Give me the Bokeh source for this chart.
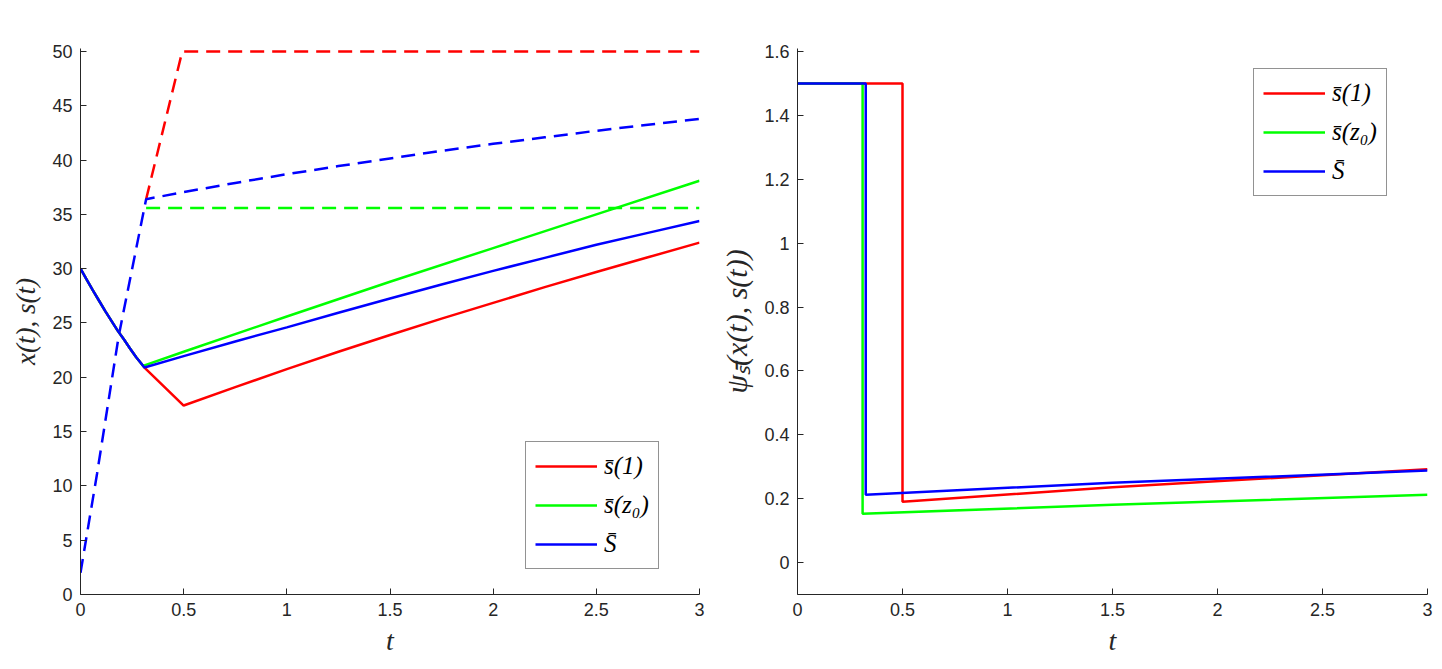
from bokeh.plotting import figure
from bokeh.layouts import row
from bokeh.models import Range1d, FixedTicker
from bokeh.embed import file_html
from bokeh.resources import INLINE

# ---------------- data ----------------
# left panel: x(t) (solid) and s(t) (dashed)
t_decay = [0, 0.03, 0.06, 0.09, 0.12, 0.15, 0.18, 0.21, 0.24, 0.27, 0.31]
x_decay = [30, 29.0, 28.0, 27.05, 26.1, 25.2, 24.3, 23.5, 22.65, 21.85, 20.9]

t_x_red = [0.5, 0.75, 1.0, 1.25, 1.5, 1.75, 2.0, 2.25, 2.5, 2.75, 3.0]
x_red = [17.4, 19.1, 20.75, 22.35, 23.9, 25.4, 26.85, 28.3, 29.7, 31.05, 32.4]
t_x_grn = [0.31, 0.5, 1.0, 1.5, 2.0, 2.5, 3.0]
x_grn = [21.1, 22.35, 25.6, 28.8, 31.9, 35.0, 38.1]
t_x_blu = [0.31, 0.5, 0.75, 1.0, 1.25, 1.5, 1.75, 2.0, 2.25, 2.5, 2.75, 3.0]
x_blu = [20.9, 21.95, 23.3, 24.6, 25.95, 27.25, 28.55, 29.8, 31.0, 32.2, 33.3, 34.4]

t_s_red = [0.318, 0.493, 3.0]
s_red = [36.4, 50, 50]
t_s_grn = [0.318, 3.0]
s_grn = [35.6, 35.6]
t_s_blu = [0, 0.08, 0.186, 0.318, 0.5, 0.75, 1.0, 1.25, 1.5, 1.75, 2.0, 2.25, 2.5, 2.75, 3.0]
s_blu = [2, 11.1, 23.9, 36.4, 37.05, 37.9, 38.7, 39.45, 40.15, 40.85, 41.5, 42.1, 42.7, 43.25, 43.8]

# right panel: psi
t_psi_red = [0, 0.5, 0.5, 1.5, 3.0]
psi_red = [1.5, 1.5, 0.19, 0.236, 0.292]
t_psi_grn = [0, 0.31, 0.31, 1.5, 3.0]
psi_grn = [1.5, 1.5, 0.153, 0.181, 0.2125]
t_psi_blu = [0, 0.325, 0.325, 1.5, 3.0]
psi_blu = [1.5, 1.5, 0.2125, 0.250, 0.288]

labels = ["s\u0304(1)", "s\u0304(z\u2080)", "S\u0304"]
x_ticks = [0, 0.5, 1, 1.5, 2, 2.5, 3]
x_tick_labels = ["0", "0.5", "1", "1.5", "2", "2.5", "3"]
yl_ticks = [0, 5, 10, 15, 20, 25, 30, 35, 40, 45, 50]
yl_tick_labels = ["0", "5", "10", "15", "20", "25", "30", "35", "40", "45", "50"]
yr_ticks = [0, 0.2, 0.4, 0.6, 0.8, 1.0, 1.2, 1.4, 1.6]
yr_tick_labels = ["0", "0.2", "0.4", "0.6", "0.8", "1", "1.2", "1.4", "1.6"]

RED, GRN, BLU = "#ff0000", "#00ff00", "#0000ff"
AX = "#262626"
LW = 2.5
DASH = "14 8"


def style(p, yt, ytl, ylabel, ysize):
    p.xaxis.ticker = FixedTicker(ticks=x_ticks)
    p.yaxis.ticker = FixedTicker(ticks=yt)
    p.xaxis.major_label_overrides = {k: v for k, v in zip(x_ticks, x_tick_labels)}
    p.yaxis.major_label_overrides = {k: v for k, v in zip(yt, ytl)}
    p.xgrid.visible = False
    p.ygrid.visible = False
    p.outline_line_color = None
    for ax in (p.xaxis[0], p.yaxis[0]):
        ax.axis_line_color = AX
        ax.major_tick_line_color = AX
        ax.major_tick_in = 6
        ax.major_tick_out = 0
        ax.minor_tick_line_color = None
        ax.major_label_text_font = "Liberation Sans"
        ax.major_label_text_font_size = "18px"
        ax.major_label_text_color = AX
        ax.axis_label_text_font = "Liberation Serif"
        ax.axis_label_text_font_style = "italic"
        ax.axis_label_text_color = AX
    p.xaxis.axis_label = "t"
    p.xaxis.axis_label_text_font_size = "28px"
    p.xaxis.major_label_standoff = 8
    p.xaxis.axis_label_standoff = 6
    p.yaxis.axis_label = ylabel
    p.yaxis.axis_label_text_font_size = ysize
    p.yaxis.major_label_standoff = 8
    p.yaxis.axis_label_standoff = 8


def style_legend(p, loc):
    lg = p.legend[0]
    lg.location = loc
    lg.label_text_font = "Liberation Serif"
    lg.label_text_font_style = "italic"
    lg.label_text_font_size = "25px"
    lg.label_text_color = "#000000"
    lg.glyph_width = 62
    lg.glyph_height = 30
    lg.label_height = 30
    lg.spacing = 9
    lg.padding = 9
    lg.label_standoff = 7
    lg.border_line_color = AX
    lg.border_line_width = 1
    lg.background_fill_alpha = 1
    lg.margin = 0


# ---------------- left ----------------
# frames are 3 px taller than the tick span so the dashed line at 50 is not clipped
p1 = figure(width=709, height=669, output_backend="svg", toolbar_location=None,
            x_range=Range1d(0, 3), y_range=Range1d(0, 50.276),
            min_border_left=80, min_border_right=10, min_border_top=48, min_border_bottom=75)
style(p1, yl_ticks, yl_tick_labels, "x(t), s(t)", "27px")

p1.line(t_s_red, s_red, color=RED, line_width=LW, line_dash=DASH)
p1.line(t_s_grn, s_grn, color=GRN, line_width=LW, line_dash=DASH)
p1.line(t_s_blu, s_blu, color=BLU, line_width=LW, line_dash=DASH)
p1.line(t_decay + t_x_red, x_decay + x_red, color=RED, line_width=LW, legend_label=labels[0])
p1.line(t_decay + t_x_grn, x_decay + x_grn, color=GRN, line_width=LW, legend_label=labels[1])
p1.line(t_decay + t_x_blu, x_decay + x_blu, color=BLU, line_width=LW, legend_label=labels[2])
style_legend(p1, (445, 25))

# ---------------- right ----------------
p2 = figure(width=733, height=669, output_backend="svg", toolbar_location=None,
            x_range=Range1d(0, 3), y_range=Range1d(-0.1, 1.6094),
            min_border_left=88, min_border_right=15, min_border_top=48, min_border_bottom=75)
style(p2, yr_ticks, yr_tick_labels, "\u03c8\u209b\u0304(x(t), s(t))", "30px")

p2.line(t_psi_red, psi_red, color=RED, line_width=LW, legend_label=labels[0])
p2.line(t_psi_grn, psi_grn, color=GRN, line_width=LW, legend_label=labels[1])
p2.line(t_psi_blu, psi_blu, color=BLU, line_width=LW, legend_label=labels[2])
style_legend(p2, (456, 398))

layout = row(p1, p2)
open("out.html", "w").write(file_html(layout, INLINE))
